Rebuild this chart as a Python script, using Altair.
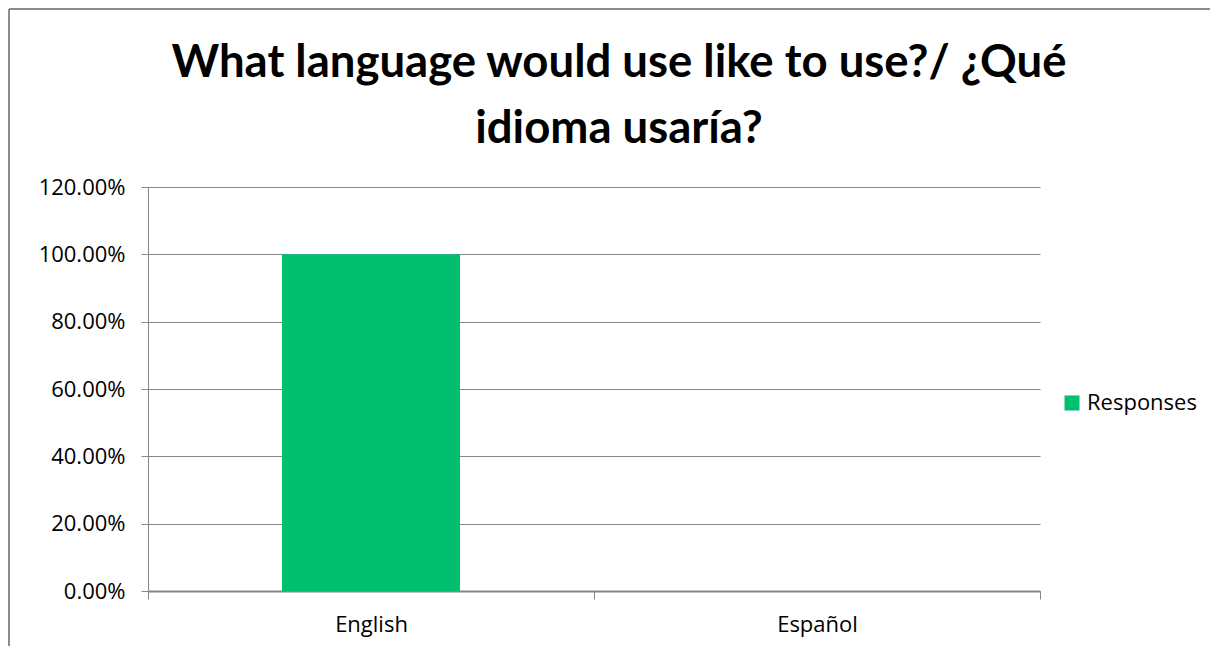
import altair as alt
import pandas as pd

categories = ["English", "Español"]
values = [1.00, 0.00]
series = ["Responses", "Responses"]
title_lines = ["What language would use like to use?/ ¿Qué", "idioma usaría?"]

df = pd.DataFrame({"language": categories, "share": values, "series": series})
frame = pd.DataFrame({"a": [0]})
# chart-frame edges (top edge and left edge), in a unit frame
edges = pd.DataFrame({"x0": [0, 0], "x1": [1, 0], "y0": [0, 0], "y1": [0, 1]})

TITLE_FONT = "Lato"
FONT = "Open Sans"

bars = alt.Chart(df).mark_bar(size=178).encode(
    x=alt.X("language:N", sort=categories, title=None,
            scale=alt.Scale(paddingInner=0, paddingOuter=0),
            axis=alt.Axis(labelAngle=0, tickBand="extent", ticks=True, tickSize=8,
                          labelPadding=15, domainWidth=2)),
    y=alt.Y("share:Q", title=None,
            scale=alt.Scale(domain=[0, 1.2], nice=False),
            axis=alt.Axis(format=".2%", values=[0, 0.2, 0.4, 0.6, 0.8, 1.0, 1.2],
                          tickSize=7, labelPadding=16, grid=True, domain=True)),
    color=alt.Color("series:N", title=None,
                    scale=alt.Scale(range=["#00C070"]),
                    legend=alt.Legend(orient="none", legendX=913, legendY=205,
                                      symbolType="square", symbolSize=225,
                                      labelFontSize=22, labelFont=FONT,
                                      symbolStrokeWidth=0, labelLimit=300)),
)

border = alt.Chart(edges).mark_rule(color="#8c8c8c", strokeWidth=2).encode(
    x=alt.X("x0:Q", axis=None, scale=alt.Scale(domain=[0, 1], range=[-139, 1300])),
    x2="x1:Q",
    y=alt.Y("y0:Q", axis=None, scale=alt.Scale(domain=[0, 1], range=[-178, 600])),
    y2="y1:Q",
)

title = alt.Chart(frame).mark_text(
    text=title_lines, font=TITLE_FONT, fontSize=45.5, fontWeight="bold",
    color="#000000", align="center", baseline="alphabetic", lineHeight=66,
).encode(x=alt.value(471), y=alt.value(-110))

chart = alt.layer(border, title, bars).resolve_scale(
    x="independent", y="independent"
).properties(
    width=892, height=404,
    autosize=alt.AutoSizeParams(type="none"),
    padding={"left": 140, "top": 179, "right": 170, "bottom": 55},
).configure_view(stroke=None).configure_axis(
    labelFont=FONT, labelFontSize=22, labelColor="#000000",
    domainColor="#868686", tickColor="#868686", gridColor="#868686",
    gridWidth=1.2,
)

chart.save("out.html", embed_options={"renderer": "svg", "actions": False})
